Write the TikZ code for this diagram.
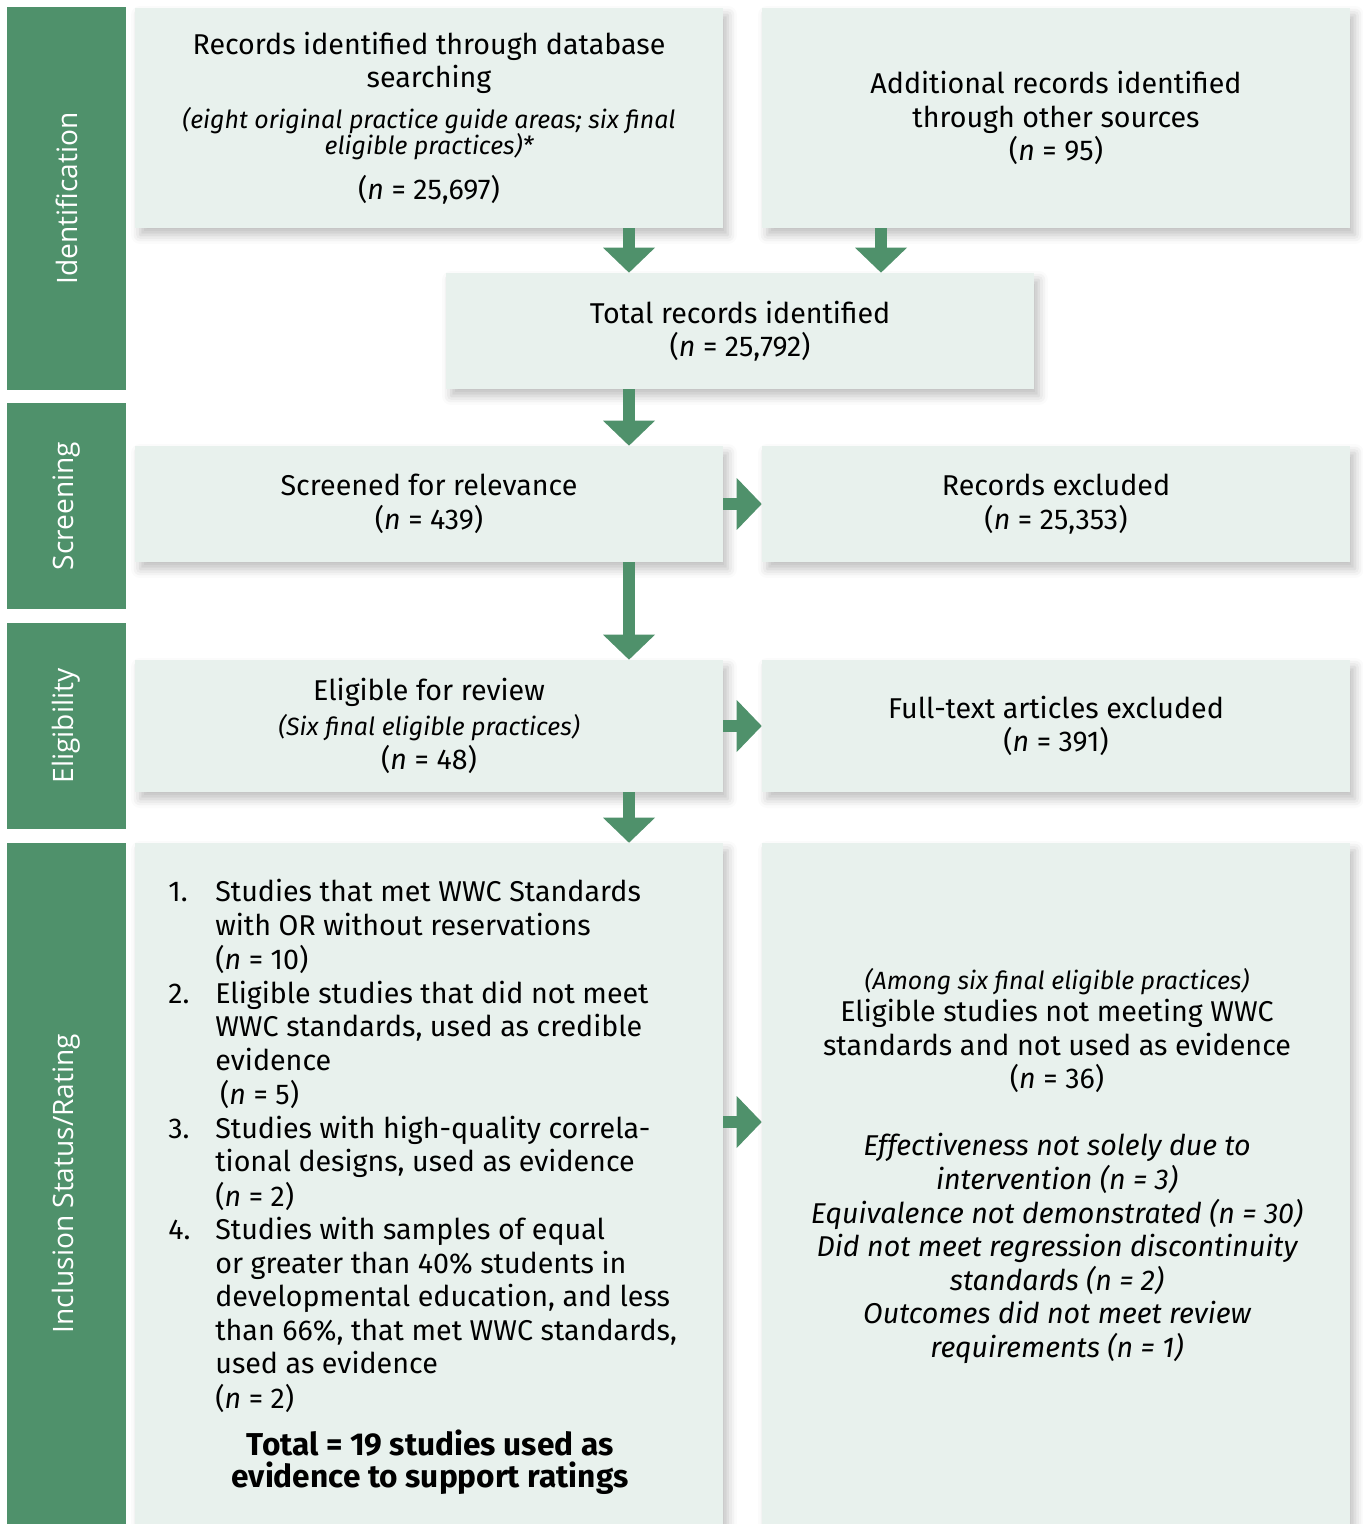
\documentclass[tikz,border=0pt]{standalone}
\usepackage{fontspec}
\setmainfont{Fira Sans}
\newfontfamily\sidefont{Open Sans}
\usepackage{tikz}
\usetikzlibrary{arrows.meta}
\usetikzlibrary{shadows.blur}
\definecolor{wwcgreen}{RGB}{79,145,107}
\definecolor{boxfill}{RGB}{232,241,237}
\tikzset{l/.style={font=\fontsize{16.3}{19.1}\selectfont}}
\tikzset{box/.style={fill=boxfill, minimum width=11.76cm, inner sep=0pt, align=center, l,
  blur shadow={shadow xshift=0.1cm, shadow yshift=-0.14cm, shadow blur radius=0.18cm, shadow opacity=25}}}
\tikzset{side/.style={fill=wwcgreen, minimum height=2.38cm, inner sep=0pt, text=white, rotate=90,
  font=\sidefont\fontsize{16}{16}\selectfont}}
\tikzset{flow/.style={draw=wwcgreen, line width=0.24cm, -{Triangle[width=1.04cm,length=0.5cm,line width=0pt]}}}
\newcommand{\nval}[1]{(\textit{n} = #1)}
\newcommand{\smallit}{\fontsize{14.2}{19.1}\selectfont\itshape}

\begin{document}
\begin{tikzpicture}[x=0.02cm, y=-0.02cm]
  \useasboundingbox (0,0) rectangle (1362,1524);
  % stage bars
  \node[side, minimum width=7.66cm] (sIdent) at (66.5,198.5) {Identification};
  \node[side, minimum width=4.12cm] (sScreen) at (66.5,506) {Screening};
  \node[side, minimum width=4.12cm] (sElig) at (66.5,726) {Eligibility};
  \node[side, minimum width=13.62cm] (sIncl) at (66.5,1183.5) {Inclusion Status/Rating};
  % columns of the arrows
  \coordinate (colA) at (629,0);
  \coordinate (colB) at (881,0);
  \coordinate (rowI) at (0,1122);
  % boxes
  \node[box, minimum height=4.4cm] (recDb) at (429,118) {Records identified through database\\searching\\[3.8pt]\smallit (eight original practice guide areas; six final\\[-4.2pt]\smallit eligible practices)*\\[6.6pt]\nval{25,697}};
  \node[box, minimum height=4.4cm] (recOth) at (1056,118) {Additional records identified\\through other sources\\\nval{95}};
  \node[box, minimum height=2.32cm] (tot) at (740,331) {Total records identified\\\nval{25,792}};
  \node[box, minimum height=2.32cm] (scr) at (429,504) {Screened for relevance\\\nval{439}};
  \node[box, minimum height=2.32cm] (exc) at (1056,504) {Records excluded\\\nval{25,353}};
  \node[box, minimum height=2.64cm] (elig) at (429,726) {Eligible for review\\[0.9pt]\smallit (Six final eligible practices)\\\nval{48}};
  \node[box, minimum height=2.64cm] (ftx) at (1056,726) {Full-text articles excluded\\\nval{391}};
  \node[box, minimum height=13.62cm] (incL) at (429,1183.5) {};
  \node[box, minimum height=13.62cm] (incR) at (1056,1183.5) {};
  % text of the last row
  \node[l, anchor=north west, inner sep=0pt] (incList) at (168,878) {%
    \begin{tabular}{@{}p{0.94cm}@{}l@{}}
      1. & Studies that met WWC Standards\\
         & with OR without reservations\\
         & \nval{10}\\
      2. & Eligible studies that did not meet\\
         & WWC standards, used as credible\\
         & evidence\\
         & \,\nval{5}\\
      3. & Studies with high-quality correla-\\
         & tional designs, used as evidence\\
         & \nval{2}\\
      4. & Studies with samples of equal\\
         & or greater than 40\% students in\\
         & developmental education, and less\\
         & than 66\%, that met WWC standards,\\
         & used as evidence\\
         & \nval{2}
    \end{tabular}};
  \node[font=\bfseries\fontsize{18}{18.5}\selectfont, align=center] (total) at (430,1462) {Total = 19 studies used as\\evidence to support ratings};
  \node[l, align=center] (exclTxt) at (1057,1166) {\smallit (Among six final eligible practices)\\[-0.8pt]Eligible studies not meeting WWC\\standards and not used as evidence\\\nval{36}\\[19pt]\itshape Effectiveness not solely due to\\\itshape intervention (n = 3)\\\itshape Equivalence not demonstrated (n = 30)\\\itshape Did not meet regression discontinuity\\\itshape standards (n = 2)\\\itshape Outcomes did not meet review\\\itshape requirements (n = 1)};
  % arrows
  \draw[flow] (recDb.south -| colA) -- (tot.north -| colA);
  \draw[flow] (recOth.south -| colB) -- (tot.north -| colB);
  \draw[flow] (tot.south -| colA) -- (scr.north -| colA);
  \draw[flow] (scr.east) -- (exc.west);
  \draw[flow] (scr.south -| colA) -- (elig.north -| colA);
  \draw[flow] (elig.east) -- (ftx.west);
  \draw[flow] (elig.south -| colA) -- (incL.north -| colA);
  \draw[flow] (incL.east |- rowI) -- (incR.west |- rowI);
\end{tikzpicture}
\end{document}
